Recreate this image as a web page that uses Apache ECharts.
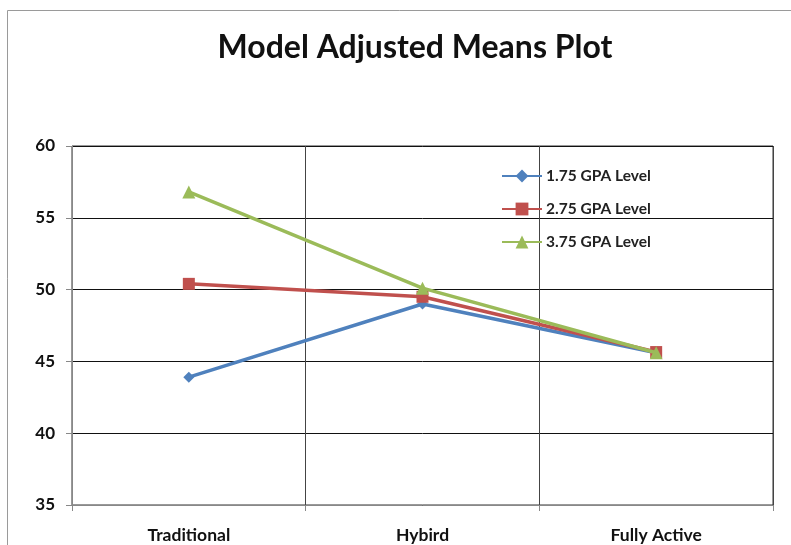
<!DOCTYPE html>
<html>
<head>
<meta charset="utf-8">
<script src="https://cdn.jsdelivr.net/npm/echarts@6/dist/echarts.min.js"></script>
<style>html,body{margin:0;padding:0;background:#fff}#c{width:791px;height:545px}</style>
</head>
<body>
<div id="c"></div>
<script>
const categories = ['Traditional', 'Hybird', 'Fully Active'];
const seriesNames = ['1.75 GPA Level', '2.75 GPA Level', '3.75 GPA Level'];
const gpa175 = [43.9, 49.0, 45.6];
const gpa275 = [50.4, 49.5, 45.65];
const gpa375 = [56.8, 50.1, 45.6];
const yTicks = [35, 40, 45, 50, 55, 60];

const colors = ['#4F81BD', '#C0504D', '#9BBB59'];
const symbols = ['diamond', 'rect', 'triangle'];
const symSizes = [11, 12, 13];
const data = [gpa175, gpa275, gpa375];

const chart = echarts.init(document.getElementById('c'), null, {renderer: 'canvas'});
const font = 'Lato, "Open Sans", sans-serif';
chart.setOption({
  animation: false,
  backgroundColor: '#fff',
  graphic: [{
    type: 'rect', shape: {x: 7.5, y: 10.5, width: 800, height: 600},
    style: {fill: 'none', stroke: '#9a9a9a', lineWidth: 1}, z: -1
  }],
  title: {
    text: 'Model Adjusted Means Plot',
    left: 410, top: 27, textAlign: 'center',
    textStyle: {fontFamily: font, fontWeight: 'bold', fontSize: 32, color: '#111'}
  },
  legend: {
    orient: 'vertical', left: 496, top: 163, itemGap: 17,
    itemWidth: 40, itemHeight: 16,
    textStyle: {fontFamily: font, fontWeight: 'bold', fontSize: 15.5, color: '#222', padding: [0, 0, 0, -1]},
    data: seriesNames
  },
  grid: {left: 72, right: 18, top: 146, bottom: 40, show: true, borderColor: '#333', borderWidth: 1},
  xAxis: {
    type: 'category', data: categories, boundaryGap: true,
    axisLine: {lineStyle: {color: '#888', width: 1}},
    axisTick: {show: true, length: 6, lineStyle: {color: '#888'}},
    axisLabel: {fontFamily: font, fontWeight: 'bold', fontSize: 17.5, color: '#111', margin: 21},
    splitLine: {show: true, lineStyle: {color: '#444', width: 1}}
  },
  yAxis: {
    type: 'value', min: 35, max: 60, interval: 5,
    axisLine: {show: true, lineStyle: {color: '#888', width: 1}},
    axisTick: {show: true, length: 6, lineStyle: {color: '#888'}},
    axisLabel: {fontFamily: font, fontWeight: 'bold', fontSize: 17, color: '#111', margin: 17,
      formatter: v => yTicks.includes(v) ? String(v) : ''},
    splitLine: {show: true, lineStyle: {color: '#111', width: 1}}
  },
  series: seriesNames.map((n, i) => ({
    name: n, type: 'line', data: data[i],
    symbol: symbols[i], symbolSize: symSizes[i], showSymbol: true,
    itemStyle: {color: colors[i]},
    lineStyle: {color: colors[i], width: 3.5},
    z: 3 + i
  }))
});
</script>
</body>
</html>
